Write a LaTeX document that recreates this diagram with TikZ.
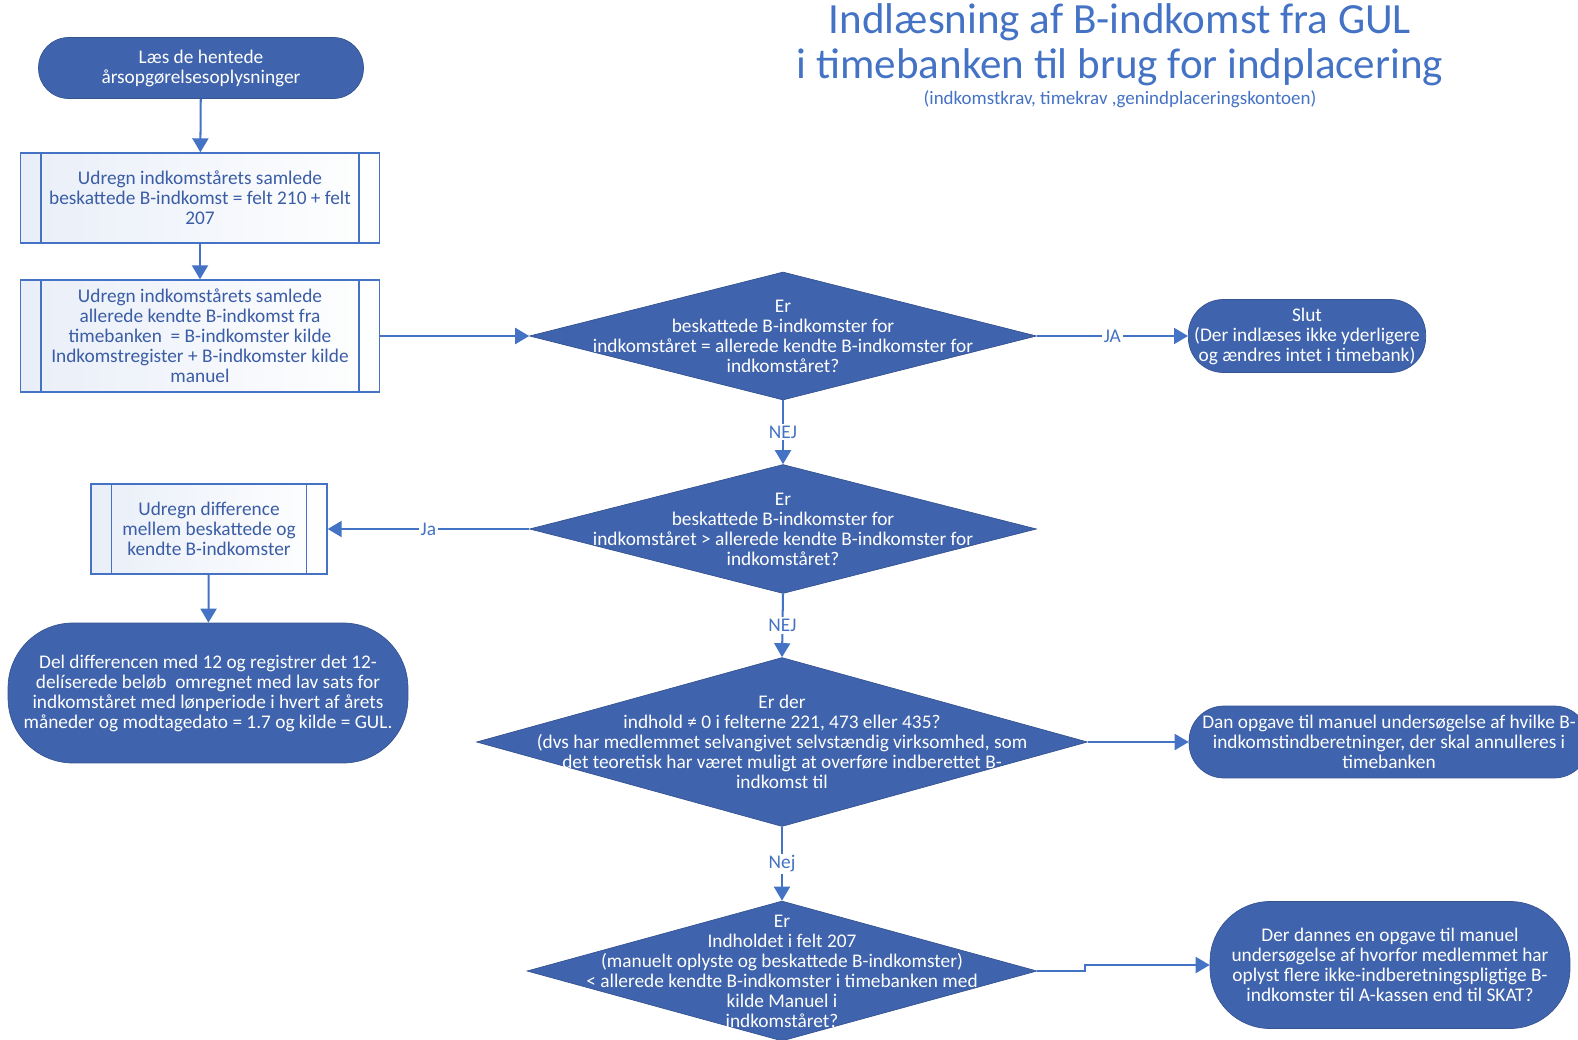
\documentclass[tikz,border=0pt]{standalone}
\usepackage{fontspec}
\setmainfont{Carlito}
\usepackage{tikz}
\usetikzlibrary{shapes.geometric, arrows.meta, positioning}
\definecolor{flowblue}{HTML}{3F63AC}
\definecolor{lineblue}{HTML}{4472C4}
\definecolor{textblue}{HTML}{3A5DA6}

\begin{document}
\begin{tikzpicture}[
    x=0.02cm, y=-0.02cm,
    terminal/.style={rectangle, draw=flowblue!85!black, fill=flowblue, text=white, align=center, font=\fontsize{11}{11.4}\selectfont},
    subproc/.style={rectangle, draw=lineblue, thick, left color=lineblue!12, right color=white, text=textblue, align=center, font=\fontsize{11}{11.4}\selectfont,
        path picture={\draw[lineblue, thick] ([xshift=0.41cm]path picture bounding box.north west) -- ([xshift=0.41cm]path picture bounding box.south west)
            ([xshift=-0.41cm]path picture bounding box.north east) -- ([xshift=-0.41cm]path picture bounding box.south east);}},
    decision/.style={diamond, draw=flowblue!85!black, fill=flowblue, inner sep=0pt},
    qtext/.style={text=white, align=center, font=\fontsize{11}{11.4}\selectfont},
    flow/.style={draw=lineblue, line width=1.15pt, -{Triangle[length=0.28cm, width=0.32cm]}},
    answer/.style={fill=white, text=lineblue, inner sep=1pt, font=\fontsize{11}{11.4}\selectfont}
]
    \useasboundingbox (0,0) rectangle (1578,1040);

    % Heading
    \node[text=lineblue, align=center, font=\fontsize{24.5}{25.5}\selectfont] (title) at (1120,45) {Indlæsning af B-indkomst fra GUL\\i timebanken til brug for indplacering};
    \node[text=lineblue, font=\fontsize{10.8}{11.4}\selectfont] (subtitle) at (1120,99) {(indkomstkrav, timekrav ,genindplaceringskontoen)};

    % Left column
    \node[terminal, minimum width=6.5cm, minimum height=1.22cm, rounded corners=0.6cm] (start) at (201,68) {Læs de hentede\\årsopgørelsesoplysninger};
    \node[subproc, minimum width=7.18cm, minimum height=1.8cm] (sumtax) at (200,198) {Udregn indkomstårets samlede\\beskattede B-indkomst = felt 210 + felt\\207};
    \node[subproc, minimum width=7.18cm, minimum height=2.24cm] (sumknown) at (200,336) {Udregn indkomstårets samlede\\allerede kendte B-indkomst fra\\timebanken\ \ = B-indkomster kilde\\Indkomstregister + B-indkomster kilde\\manuel};
    \node[subproc, minimum width=4.72cm, minimum height=1.8cm] (diff) at (209,529) {Udregn difference\\mellem beskattede og\\kendte B-indkomster};
    \node[terminal, minimum width=8cm, minimum height=2.8cm, rounded corners=1.3cm] (register) at (208,693) {Del differencen med 12 og registrer det 12-\\delíserede beløb\ \ omregnet med lav sats for\\indkomståret med lønperiode i hvert af årets\\måneder og modtagedato = 1.7 og kilde = GUL.};

    % Decisions
    \node[decision, minimum width=10.14cm, minimum height=2.56cm, label={[qtext]center:{Er\\beskattede B-indkomster for\\indkomståret = allerede kendte B-indkomster for\\indkomståret?}}] (equal) at (783,336) {};
    \node[decision, minimum width=10.14cm, minimum height=2.58cm, label={[qtext]center:{Er\\beskattede B-indkomster for\\indkomståret > allerede kendte B-indkomster for\\indkomståret?}}] (greater) at (783,529) {};
    \node[decision, minimum width=12.22cm, minimum height=3.38cm, label={[qtext]center:{Er der\\indhold ≠ 0 i felterne 221, 473 eller 435?\\(dvs har medlemmet selvangivet selvstændig virksomhed, som\\det teoretisk har været muligt at overføre indberettet B-\\indkomst til}}] (fields) at (782,742) {};
    \node[decision, minimum width=10.2cm, minimum height=2.8cm, label={[qtext]center:{Er\\Indholdet i felt 207\\(manuelt oplyste og beskattede B-indkomster)\\< allerede kendte B-indkomster i timebanken med\\kilde Manuel i\\indkomståret?}}] (manual) at (782,971) {};

    % Right column
    \node[terminal, minimum width=4.74cm, minimum height=1.46cm, rounded corners=0.7cm] (stop) at (1307,336) {Slut\\(Der indlæses ikke yderligere\\og ændres intet i timebank)};
    \node[terminal, minimum width=8cm, minimum height=1.44cm, rounded corners=0.7cm] (cancel) at (1389,742) {Dan opgave til manuel undersøgelse af hvilke B-\\indkomstindberetninger, der skal annulleres i\\timebanken};
    \node[terminal, minimum width=7.2cm, minimum height=2.54cm, rounded corners=1.2cm] (inquiry) at (1390,965) {Der dannes en opgave til manuel\\undersøgelse af hvorfor medlemmet har\\oplyst flere ikke-indberetningspligtige B-\\indkomster til A-kassen end til SKAT?};

    % Connectors
    \draw[flow] (start) -- (sumtax);
    \draw[flow] (sumtax) -- (sumknown);
    \draw[flow] (sumknown.east) -- (equal.west);
    \draw[flow] (equal.east) -- node[answer] {JA} (stop.west);
    \draw[flow] (equal.south) -- node[answer] {NEJ} (greater.north);
    \draw[flow] (greater.west) -- node[answer] {Ja} (diff.east);
    \draw[flow] (diff) -- (register);
    \draw[flow] (greater.south) -- node[answer] {NEJ} (fields.north);
    \draw[flow] (fields.east) -- (cancel.west);
    \draw[flow] (fields.south) -- node[answer] {Nej} (manual.north);
    \draw[flow] (manual.east) -- ++(48,0) |- (inquiry.west);

\end{tikzpicture}
\end{document}
